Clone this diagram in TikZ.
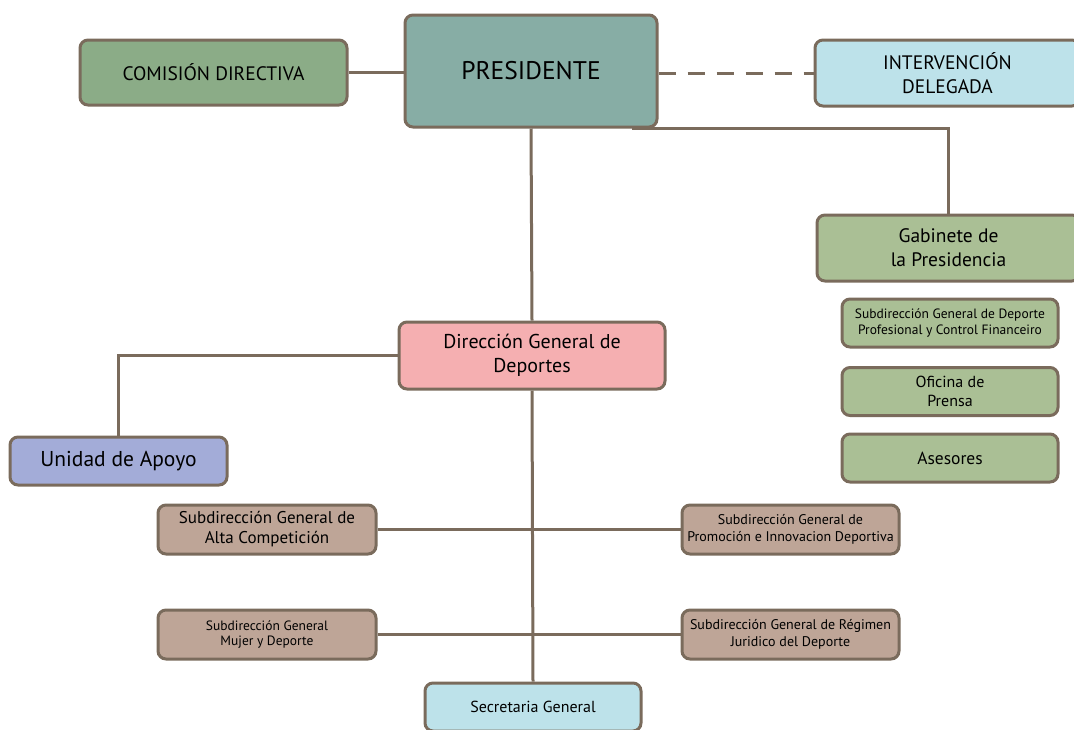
\documentclass[tikz,border=0pt]{standalone}
\usepackage{fontspec}
\setmainfont{PT Sans}
\definecolor{linea}{HTML}{7A6B5C}
\definecolor{presi}{HTML}{87ADA5}
\definecolor{comision}{HTML}{8BAC87}
\definecolor{celeste}{HTML}{BDE2EA}
\definecolor{gabinete}{HTML}{AABF95}
\definecolor{rosa}{HTML}{F5AFB1}
\definecolor{lila}{HTML}{A3ACD8}
\definecolor{marron}{HTML}{BEA597}
\begin{document}
\begin{tikzpicture}[x=1pt,y=-1pt,
    caja/.style={draw=linea, line width=3pt, rounded corners=8pt, align=center, inner sep=0pt},
    enlace/.style={draw=linea, line width=3pt}]
    \useasboundingbox (0,0) rectangle (1074,729);

    \node[caja, fill=presi, minimum width=252pt, minimum height=112pt, font=\fontsize{25.5}{29}\selectfont] (pres) at (531,71) {PRESIDENTE};
    \node[caja, fill=comision, minimum width=267pt, minimum height=65pt, font=\fontsize{19.5}{22}\selectfont] (comision) at (213.5,72.5) {COMISIÓN DIRECTIVA};
    \node[caja, fill=celeste, minimum width=265pt, minimum height=66pt, font=\fontsize{19.5}{24}\selectfont] (interv) at (947.5,73) {INTERVENCIÓN\\DELEGADA};
    \node[caja, fill=gabinete, minimum width=263pt, minimum height=66pt, font=\fontsize{19.5}{24}\selectfont] (gab) at (948.5,248) {Gabinete de\\la Presidencia};
    \node[caja, fill=gabinete, minimum width=216pt, minimum height=48pt, font=\fontsize{13.5}{15.5}\selectfont] (profesional) at (950,323) {Subdirección General de Deporte\\Profesional y Control Financeiro};
    \node[caja, fill=gabinete, minimum width=216pt, minimum height=48pt, font=\fontsize{16}{18.5}\selectfont] (prensa) at (950,391.5) {Oficina de\\Prensa};
    \node[caja, fill=gabinete, minimum width=216pt, minimum height=48pt, font=\fontsize{17.5}{20}\selectfont] (asesores) at (950,458) {Asesores};

    \node[caja, fill=rosa, minimum width=266pt, minimum height=67pt, font=\fontsize{20}{24}\selectfont] (dir) at (532,355.5) {Dirección General de\\Deportes};
    \node[caja, fill=lila, minimum width=217pt, minimum height=48pt, font=\fontsize{21.5}{24}\selectfont] (unidad) at (118.5,461) {Unidad de Apoyo};

    \node[caja, fill=marron, minimum width=218pt, minimum height=49pt, font=\fontsize{17}{20}\selectfont] (alta) at (267,529.5) {Subdirección General de\\Alta Competición};
    \node[caja, fill=marron, minimum width=217pt, minimum height=49pt, font=\fontsize{14}{16.5}\selectfont] (promo) at (790.5,529.5) {Subdirección General de\\Promoción e Innovacion Deportiva};
    \node[caja, fill=marron, minimum width=218pt, minimum height=49pt, font=\fontsize{13.5}{15.5}\selectfont] (mujer) at (267,634.5) {Subdirección General\\Mujer y Deporte};
    \node[caja, fill=marron, minimum width=217pt, minimum height=49pt, font=\fontsize{14}{16.5}\selectfont] (regimen) at (790.5,634.5) {Subdirección General de Régimen\\Juridico del Deporte};
    \node[caja, fill=celeste, minimum width=216pt, minimum height=48pt, font=\fontsize{16}{18}\selectfont] (secre) at (533,707) {Secretaria General};

    \draw[enlace] (comision.east) -- (comision.east -| pres.west);
    \draw[enlace, dash pattern=on 17pt off 12pt] (interv.west -| pres.east) -- (interv.west);
    \draw[enlace] (pres.south) -- (dir.north);
    \draw[enlace] ([xshift=-27pt]pres.south east) -| (gab.north);
    \draw[enlace] (dir.west) -| (unidad.north);
    \draw[enlace] (dir.south) -- (secre.north);
    \draw[enlace] (alta.east) -- (promo.west);
    \draw[enlace] (mujer.east) -- (regimen.west);
\end{tikzpicture}
\end{document}
